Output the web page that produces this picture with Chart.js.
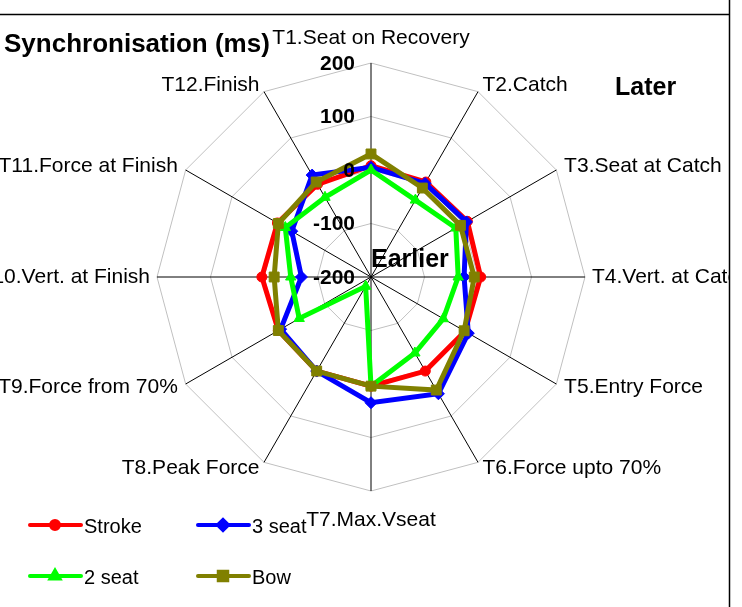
<!DOCTYPE html>
<html>
<head>
<meta charset="utf-8">
<title>Synchronisation (ms)</title>
<script src="https://cdn.jsdelivr.net/npm/chart.js@4.4.0/dist/chart.umd.min.js"></script>
<style>
  html, body { margin: 0; padding: 0; background: #fff; }
  canvas { display: block; }
</style>
</head>
<body>
<canvas id="syncChart" width="742" height="607"></canvas>
<script>
// stroke phases, clockwise from the top
const phases = [
  'T1.Seat on Recovery', 'T2.Catch', 'T3.Seat at Catch', 'T4.Vert. at Catch',
  'T5.Entry Force', 'T6.Force upto 70%', 'T7.Max.Vseat', 'T8.Peak Force',
  'T9.Force from 70%', 'T10.Vert. at Finish', 'T11.Force at Finish', 'T12.Finish'
];
const rTicks = [-200, -100, 0, 100, 200];

// timing offsets in ms, one value per phase
const stroke = [8, 5, 8, 5, 3, 3, 4, 3, 0, 4, 2, 0];
const seat3  = [5, 2, 6, -26, 10, 52, 35, 3, -5, -70, -29, 20];
const seat2  = [0, -34, -17, -37, -44, -36, 4, -180, -45, -50, -15, -28];
const bow    = [30, -8, -7, -7, 1, 44, 4, 3, 0, -19, 0, 5];

const FONT = '"Liberation Sans", Arial, Helvetica, sans-serif';

function series(label, data, color, pointStyle, radius, order) {
  return {
    label: label,
    data: data,
    borderColor: color,
    backgroundColor: color,
    borderWidth: 5,
    fill: false,
    pointStyle: pointStyle,
    pointRadius: radius,
    pointHoverRadius: radius,
    pointBackgroundColor: color,
    pointBorderColor: color,
    pointBorderWidth: 1,
    order: order,
    clip: false
  };
}

const datasets = [
  series('Stroke', stroke, '#ff0000', 'circle', 5, 3),
  series('3 seat', seat3, '#0000ff', 'rectRot', 6, 2),
  series('2 seat', seat2, '#00ff00', 'triangle', 6, 1),
  series('Bow', bow, '#808000', 'rect', 7, 0)
];

// frame, labels, ticks and legend drawn on top of the radar
const decor = {
  id: 'decor',
  afterDraw(chart) {
    const ctx = chart.ctx;
    const r = chart.scales.r;
    const n = phases.length;

    ctx.save();
    ctx.strokeStyle = '#000';
    ctx.lineWidth = 1.5;
    ctx.beginPath();
    ctx.moveTo(0, 14.5);
    ctx.lineTo(729.5, 14.5);
    ctx.moveTo(729.5, 0);
    ctx.lineTo(729.5, chart.height);
    ctx.stroke();

    // phase names around the web
    ctx.save();
    ctx.beginPath();
    ctx.rect(0, 15, 729, chart.height);
    ctx.clip();
    ctx.font = '21px ' + FONT;
    ctx.fillStyle = '#000';
    ctx.textBaseline = 'middle';
    phases.forEach((name, i) => {
      const a = i * 2 * Math.PI / n;
      const s = Math.sin(a), c = Math.cos(a);
      const p = r.getPointPosition(i, r.drawingArea);
      let x = p.x, y = p.y;
      if (Math.abs(s) < 0.01) {
        ctx.textAlign = 'center';
        y += c > 0 ? -25 : 29;
      } else {
        ctx.textAlign = s > 0 ? 'left' : 'right';
        x += s * (Math.abs(s) > 0.99 ? 7 : 9);
        y -= c * 7;
      }
      ctx.fillText(name, x, y);
    });
    ctx.restore();

    // radial tick values
    ctx.fillStyle = '#000';
    ctx.font = 'bold 21px ' + FONT;
    ctx.textAlign = 'right';
    ctx.textBaseline = 'middle';
    rTicks.forEach(v => {
      const d = r.getDistanceFromCenterForValue(v);
      ctx.fillText(String(v), r.xCenter - 16, r.yCenter - d + 1);
    });

    // headings
    ctx.font = 'bold 26px ' + FONT;
    ctx.textAlign = 'left';
    ctx.textBaseline = 'alphabetic';
    ctx.fillText('Synchronisation (ms)', 4, 52);
    ctx.font = 'bold 25px ' + FONT;
    ctx.fillText('Later', 615, 95);
    ctx.fillText('Earlier', r.xCenter, r.yCenter - 10);

    // legend, two columns
    ctx.font = '20px ' + FONT;
    ctx.textBaseline = 'middle';
    datasets.forEach((ds, i) => {
      const x0 = 30 + (i % 2) * 168;
      const y0 = 525 + Math.floor(i / 2) * 51;
      ctx.strokeStyle = ds.borderColor;
      ctx.lineWidth = 4;
      ctx.lineCap = 'round';
      ctx.beginPath();
      ctx.moveTo(x0, y0);
      ctx.lineTo(x0 + 51, y0);
      ctx.stroke();
      ctx.fillStyle = ds.borderColor;
      Chart.helpers.drawPoint(ctx, {
        pointStyle: ds.pointStyle,
        radius: ds.pointRadius - 1,
        rotation: 0,
        borderWidth: 1
      }, x0 + 25, y0);
      ctx.fillStyle = '#000';
      ctx.fillText(ds.label, x0 + 54, y0 + 2);
    });
    ctx.restore();
  }
};

new Chart(document.getElementById('syncChart'), {
  type: 'radar',
  data: { labels: phases, datasets: datasets },
  options: {
    responsive: false,
    animation: false,
    layout: { padding: { left: 157, right: 157, top: 63, bottom: 116 } },
    plugins: {
      legend: { display: false },
      tooltip: { enabled: false },
      title: { display: false }
    },
    elements: { line: { tension: 0 } },
    scales: {
      r: {
        min: rTicks[0],
        max: rTicks[rTicks.length - 1],
        startAngle: 0,
        ticks: { stepSize: 100, display: false },
        grid: { color: '#c0c0c0', lineWidth: 1 },
        angleLines: { color: '#000', lineWidth: 1 },
        pointLabels: { display: false }
      }
    }
  },
  plugins: [decor]
});
</script>
</body>
</html>
